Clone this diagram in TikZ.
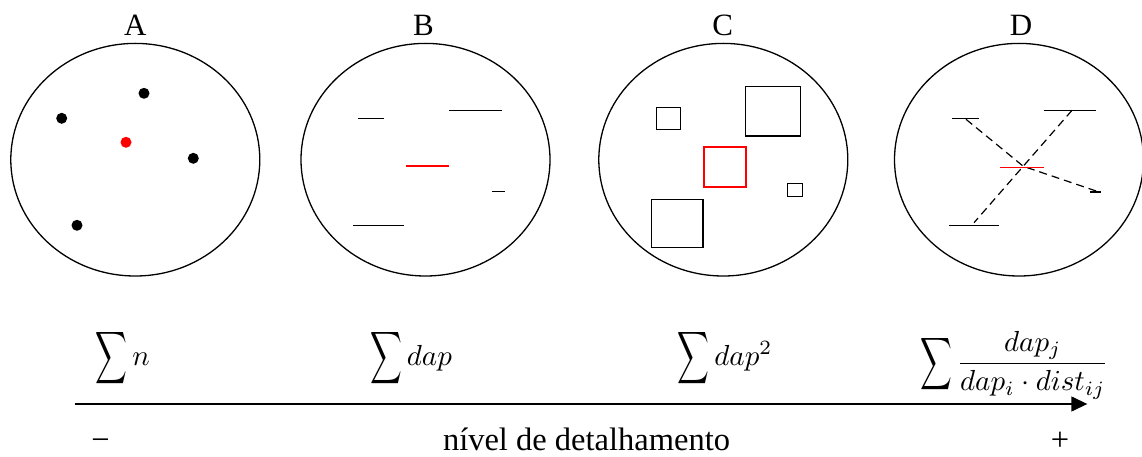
\documentclass[tikz,border=0pt]{standalone}
\usepackage{fontspec}
\setmainfont{Liberation Serif}
\usepackage{graphicx}
\usetikzlibrary{arrows.meta,shapes.geometric}
\newcommand{\Bsum}{\mathop{\vcenter{\hbox{\scalebox{0.76}[1.26]{$\displaystyle\sum$}}}}\nolimits}
\newcommand{\enlargeformula}[1]{\scalebox{2.9}{\fontsize{10}{12}\selectfont #1}}
\tikzset{
  region/.style={draw, ellipse, line width=1.3pt, inner sep=0pt, minimum width=249pt, minimum height=232.6pt},
  lbl/.style={font=\fontsize{31}{37}\selectfont, inner sep=0pt, anchor=base},
  frm/.style={inner sep=0pt, anchor=base west},
  axtxt/.style={font=\fontsize{32.5}{39}\selectfont, inner sep=0pt, anchor=base},
  tree/.style={fill=black, circle, inner sep=0pt, minimum size=11pt},
  focaltree/.style={fill=red, circle, inner sep=0pt, minimum size=11pt},
  seg/.style={line width=1.3pt},
  focalseg/.style={red, line width=1.3pt},
  sq/.style={draw, line width=1.4pt, line join=miter},
  focalsq/.style={draw=red, line width=1.4pt, line join=miter},
  link/.style={dashed, dash pattern=on 8pt off 5pt, line width=1.2pt},
  axis/.style={line width=1.4pt, -{Triangle[length=16pt,width=15pt]}}
}
\begin{document}
\begin{tikzpicture}[x=1pt,y=-1pt]
\useasboundingbox (0,0) rectangle (1142,457);
% regions
\node[region] (ellA) at (135.3,159.7) {};
\node[region] (ellB) at (425.5,159.7) {};
\node[region] (ellC) at (723.3,159.7) {};
\node[region] (ellD) at (1019,159.7) {};
% labels
\node[lbl] (labA) at (135.3,35.5) {A};
\node[lbl] (labB) at (423.5,35.5) {B};
\node[lbl] (labC) at (722.7,35.5) {C};
\node[lbl] (labD) at (1021,35.5) {D};
% A: points
\node[tree] (a1) at (144,93.3) {};
\node[tree] (a2) at (61.7,118.3) {};
\node[focaltree] (a0) at (126,142.3) {};
\node[tree] (a3) at (193.3,158.3) {};
\node[tree] (a4) at (77,225.3) {};
% B: segments
\draw[seg] (357.7,118.3) -- (384.3,118.3);
\draw[seg] (449,110.3) -- (501.7,110.3);
\draw[focalseg] (405.7,166) -- (449,166);
\draw[seg] (492.3,191.7) -- (505,191.7);
\draw[seg] (353,225.7) -- (403.7,225.7);
% C: squares
\draw[sq] (656.3,107.3) rectangle (680.7,129.7);
\draw[sq] (745.7,86.7) rectangle (800.7,136);
\draw[focalsq] (704,147) rectangle (746,187);
\draw[sq] (787.3,183.7) rectangle (802.3,196.7);
\draw[sq] (651.7,199.7) rectangle (703,247.7);
% D: segments and links
\draw[seg] (952.3,118.3) -- (979,118.3);
\draw[seg] (1043.7,110.3) -- (1096.3,110.3);
\draw[seg] (1090,192) -- (1100.7,192);
\draw[seg] (949.3,225.7) -- (999.3,225.7);
\coordinate (d1) at (966,119.3);
\coordinate (d2) at (1072,110.3);
\coordinate (d3) at (1100,192.3);
\coordinate (d4) at (974,222.7);
\coordinate (dc) at (1023.3,166.3);
\draw[link] (d1) -- (dc) -- (d3);
\draw[link] (d2) -- (d4);
\draw[focalseg] (1000.3,167.7) -- (1043.7,167.7);
% formulas
\node[frm] (f1) at (95.4,365) {\enlargeformula{$\Bsum n$}};
\node[frm] (f2) at (370,365) {\enlargeformula{$\Bsum dap$}};
\node[frm] (f3) at (677.5,365) {\enlargeformula{$\Bsum dap^2$}};
\node[frm] (f4) at (919.8,371) {\enlargeformula{$\displaystyle\Bsum\frac{dap_j}{dap_i\cdot dist_{ij}}$}};
% axis
\coordinate (axS) at (74.7,404);
\coordinate (axE) at (1087.3,404);
\draw[axis] (axS) -- (axE);
\node[axtxt] (lo) at (100.6,450) {−};
\node[axtxt] (mid) at (586.5,450) {nível de detalhamento};
\node[axtxt] (hi) at (1060,450) {+};
\end{tikzpicture}
\end{document}
